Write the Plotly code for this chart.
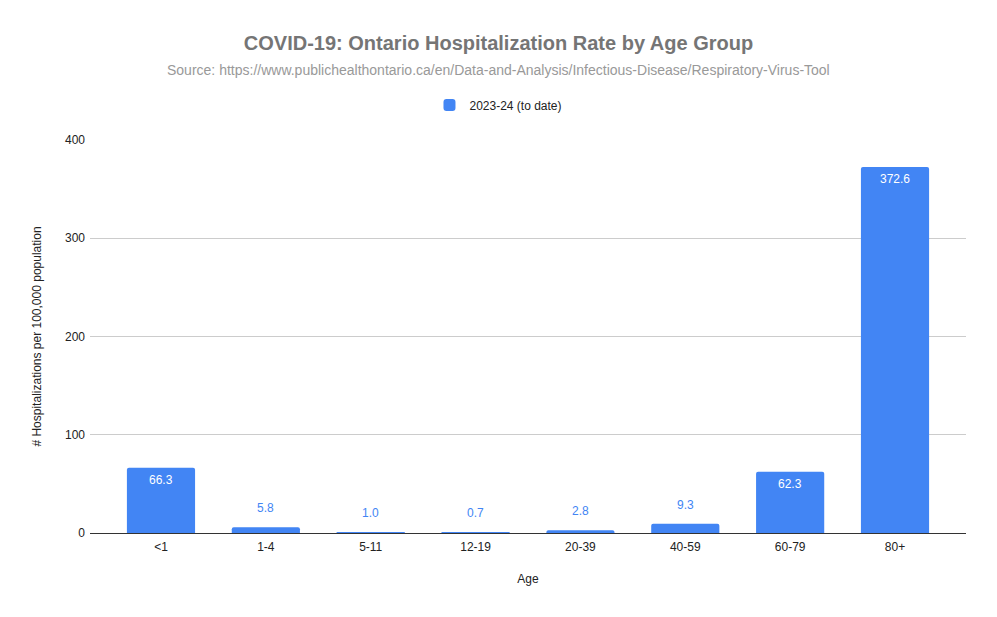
import plotly.graph_objects as go

categories = ["<1", "1-4", "5-11", "12-19", "20-39", "40-59", "60-79", "80+"]
values = [66.3, 5.8, 1.0, 0.7, 2.8, 9.3, 62.3, 372.6]
series_name = "2023-24 (to date)"
y_ticks = [0, 100, 200, 300, 400]

BLUE = "#4285F4"
FONT = "Liberation Sans, Arial, sans-serif"

fig = go.Figure()
fig.add_trace(go.Bar(
    x=categories, y=values, name=series_name,
    marker=dict(color=BLUE, line=dict(width=0), cornerradius=2),
    width=0.65, showlegend=True,
))

annotations = []
for c, v in zip(categories, values):
    inside = v > 30
    annotations.append(dict(
        x=c, y=v, xref="x", yref="y", text=f"{v:.1f}", showarrow=False,
        yanchor="middle", yshift=-12 if inside else 19,
        font=dict(family=FONT, size=12, color="#ffffff" if inside else BLUE),
    ))

annotations.append(dict(
    x=0.4663, y=1.0, xref="paper", yref="paper", xanchor="center", yanchor="middle",
    yshift=70, showarrow=False,
    text="Source: https://www.publichealthontario.ca/en/Data-and-Analysis/Infectious-Disease/Respiratory-Virus-Tool",
    font=dict(family=FONT, size=14, color="#999999"),
))

fig.update_layout(
    width=997, height=617,
    paper_bgcolor="white", plot_bgcolor="white",
    margin=dict(l=82, r=39, t=132, b=92),
    font=dict(family=FONT, size=12, color="#222222"),
    title=dict(
        text="<b>COVID-19: Ontario Hospitalization Rate by Age Group</b>",
        x=0.5 - 8 / 997, xanchor="center", y=1 - 35 / 617, yanchor="middle", yref="container",
        font=dict(family=FONT, size=20, color="#757575"),
        automargin=False,
    ),
    legend=dict(
        orientation="h", x=0.4663, xanchor="center", y=1 - 97 / 617, yanchor="middle",
        yref="container", font=dict(family=FONT, size=12, color="#222222"),
    ),
    xaxis=dict(
        type="category", range=[-0.677, 7.677],
        showgrid=False, ticks="", showline=False, automargin=False,
        ticklabelstandoff=5,
        tickfont=dict(family=FONT, size=12, color="#222222"),
        title=dict(text="Age", standoff=21, font=dict(family=FONT, size=12, color="#222222")),
    ),
    yaxis=dict(
        range=[0, 400], tickvals=y_ticks, showgrid=True, gridcolor="#cccccc", gridwidth=1,
        zeroline=True, zerolinecolor="#333333", zerolinewidth=1,
        ticks="", ticklabelstandoff=4, automargin=False,
        tickfont=dict(family=FONT, size=12, color="#222222"),
        title=dict(text="# Hospitalizations per 100,000 population", standoff=20,
                   font=dict(family=FONT, size=12, color="#222222")),
    ),
    annotations=annotations,
)

fig.write_html("out.html")
